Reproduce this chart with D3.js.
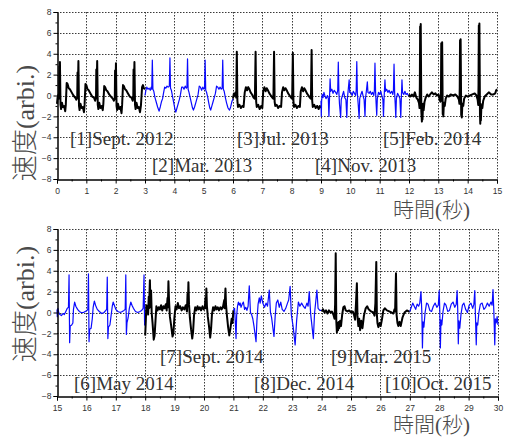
<!DOCTYPE html>
<html>
<head>
<meta charset="utf-8">
<script src="https://cdn.jsdelivr.net/npm/d3@7"></script>
<style>
  body { margin: 0; background: #fff; }
</style>
</head>
<body>
<svg id="chart" width="513" height="437"></svg>
<script>
// ---- Recording labels (one per 3-second segment) ----
const recordLabels = [
  "[1]Sept. 2012", "[2]Mar. 2013", "[3]Jul. 2013", "[4]Nov. 2013", "[5]Feb. 2014",
  "[6]May 2014", "[7]Sept. 2014", "[8]Dec. 2014", "[9]Mar. 2015", "[10]Oct. 2015"
];

// ---- Tick values ----
const yTicks = [-8, -6, -4, -2, 0, 2, 4, 6, 8];
const yMinorTicks = [-7, -5, -3, -1, 1, 3, 5, 7];
const xTicksTop = [0, 1, 2, 3, 4, 5, 6, 7, 8, 9, 10, 11, 12, 13, 14, 15];
const xTicksBottom = [15, 16, 17, 18, 19, 20, 21, 22, 23, 24, 25, 26, 27, 28, 29, 30];

// ---- Velocity traces: [time (s), velocity (arbi.)] ----
const sept2012 = [
  [0,-0.8],[0.02,-0.2],[0.05,0.1],[0.07,-0.3],[0.08,2.8],[0.09,0.5],[0.1,3.2],[0.12,-0.9],[0.14,-1.3],[0.17,-0.7],
  [0.2,-1.1],[0.24,-1.0],[0.28,-1.5],[0.3,-0.9],[0.33,1.2],[0.36,1.1],[0.4,0.7],[0.44,0.6],[0.5,0.3],[0.56,0.0],
  [0.62,-0.2],[0.66,-0.4],[0.69,-0.2],[0.7,2.2],[0.71,0.4],[0.73,3.3],[0.75,-1.0],[0.77,-1.4],[0.8,-0.8],[0.84,-1.2],
  [0.88,-1.1],[0.92,-1.6],[0.94,-0.9],[0.97,1.1],[1.0,1.0],[1.04,0.6],[1.08,0.5],[1.14,0.2],[1.2,-0.1],[1.26,-0.2],
  [1.3,-0.5],[1.33,-0.2],[1.34,2.5],[1.35,0.5],[1.37,3.3],[1.39,-0.9],[1.41,-1.3],[1.44,-0.7],[1.48,-1.2],[1.52,-1.0],
  [1.56,-1.4],[1.58,-0.8],[1.61,0.9],[1.64,0.8],[1.68,0.5],[1.72,0.4],[1.78,0.1],[1.84,-0.1],[1.9,-0.3],[1.94,-0.5],
  [1.97,-0.3],[1.98,2.4],[1.99,0.3],[2.01,3.1],[2.03,-1.0],[2.05,-1.4],[2.08,-0.8],[2.12,-1.3],[2.16,-1.1],[2.2,-1.7],
  [2.22,-0.9],[2.25,1.0],[2.28,0.9],[2.32,0.6],[2.36,0.5],[2.42,0.2],[2.48,-0.1],[2.54,-0.2],[2.58,-0.5],[2.6,-0.3],
  [2.61,2.5],[2.62,0.4],[2.64,3.2],[2.66,-0.9],[2.68,-1.3],[2.71,-0.7],[2.75,-1.2],[2.79,-1.1],[2.83,-1.6],[2.86,-1.0],
  [2.9,0.8],[2.93,1.0],[2.96,0.7],[3.0,0.6]
];
const mar2013 = [
  [3.0,0.0],[3.03,0.5],[3.06,0.8],[3.1,0.6],[3.14,0.7],[3.18,0.5],[3.21,0.8],[3.23,0.6],[3.25,3.4],[3.27,0.6],
  [3.3,0.4],[3.34,-0.2],[3.38,-0.6],[3.43,-1.1],[3.48,-1.5],[3.52,-1.1],[3.56,-0.6],[3.6,-0.3],[3.63,0.2],[3.67,0.8],
  [3.71,0.7],[3.75,0.9],[3.79,0.8],[3.83,0.9],[3.85,3.6],[3.87,0.7],[3.9,0.5],[3.94,-0.1],[3.98,-0.7],[4.02,-1.3],
  [4.05,-1.6],[4.09,-1.2],[4.13,-0.8],[4.17,-0.4],[4.21,0.1],[4.25,0.8],[4.29,0.8],[4.33,0.6],[4.37,0.9],[4.41,0.7],
  [4.43,0.8],[4.45,3.5],[4.47,0.6],[4.5,0.3],[4.54,-0.2],[4.58,-0.7],[4.62,-1.2],[4.65,-1.4],[4.69,-1.1],[4.73,-0.7],
  [4.77,-0.3],[4.81,0.1],[4.85,0.9],[4.89,0.8],[4.93,0.5],[4.97,0.8],[5.01,0.6],[5.03,0.7],[5.05,3.4],[5.07,0.5],
  [5.1,0.3],[5.14,-0.2],[5.18,-0.8],[5.21,-1.2],[5.24,-1.4],[5.28,-1.0],[5.32,-0.6],[5.36,-0.2],[5.4,0.2],[5.44,0.9],
  [5.48,0.8],[5.52,0.6],[5.56,0.8],[5.6,0.6],[5.63,0.7],[5.65,3.4],[5.67,0.6],[5.7,0.4],[5.74,-0.2],[5.78,-0.7],
  [5.83,-1.2],[5.88,-1.4],[5.92,-1.1],[5.96,-0.6],[6.0,-0.3]
];
const jul2013 = [
  [6.0,-0.3],[6.03,0.2],[6.06,0.0],[6.09,0.3],[6.11,-0.2],[6.13,4.2],[6.15,-0.5],[6.17,-1.1],[6.22,-0.9],[6.27,-1.2],
  [6.32,-1.0],[6.36,-1.1],[6.4,0.3],[6.44,0.8],[6.48,0.5],[6.52,0.8],[6.56,0.6],[6.6,0.3],[6.65,0.1],[6.7,-0.2],
  [6.74,-0.3],[6.75,0.3],[6.77,4.2],[6.79,-0.6],[6.81,-1.1],[6.86,-0.9],[6.91,-1.3],[6.96,-1.0],[7.0,-1.2],[7.03,0.4],
  [7.07,0.8],[7.11,0.4],[7.15,0.7],[7.19,0.5],[7.24,0.2],[7.29,0.0],[7.34,-0.2],[7.37,-0.3],[7.38,0.2],[7.4,4.2],
  [7.42,-0.6],[7.44,-1.0],[7.49,-0.9],[7.54,-1.2],[7.59,-1.0],[7.64,-1.1],[7.67,0.3],[7.71,0.8],[7.75,0.5],[7.79,0.7],
  [7.83,0.5],[7.88,0.2],[7.93,0.0],[7.98,-0.2],[8.01,-0.3],[8.02,0.3],[8.04,4.1],[8.06,-0.5],[8.08,-1.1],[8.13,-0.9],
  [8.18,-1.2],[8.23,-1.0],[8.28,-1.1],[8.31,0.4],[8.35,0.8],[8.39,0.4],[8.43,0.7],[8.47,0.5],[8.52,0.2],[8.57,0.0],
  [8.62,-0.2],[8.65,-0.3],[8.66,0.2],[8.68,4.35],[8.7,-0.5],[8.72,-1.1],[8.77,-0.9],[8.82,-1.2],[8.87,-1.0],[8.92,-1.3],
  [8.96,-1.0],[9.0,-1.2]
];
const nov2013 = [
  [9.0,-0.5],[9.01,-2.0],[9.02,-0.6],[9.04,0.1],[9.07,-0.2],[9.1,0.3],[9.13,0.0],[9.17,-0.3],[9.22,0.0],[9.25,-0.3],
  [9.27,-2.0],[9.29,-0.3],[9.31,1.6],[9.33,0.4],[9.37,0.6],[9.41,0.2],[9.45,0.5],[9.5,0.3],[9.54,0.1],[9.57,0.5],
  [9.59,3.2],[9.61,0.3],[9.63,-0.8],[9.67,-2.1],[9.69,-0.4],[9.73,0.0],[9.77,0.4],[9.81,-0.2],[9.85,-0.4],[9.88,-2.1],
  [9.9,-0.3],[9.93,0.6],[9.96,1.5],[9.98,0.3],[10.02,0.3],[10.06,0.0],[10.1,0.4],[10.14,0.2],[10.18,0.0],[10.2,0.5],
  [10.22,3.25],[10.24,0.2],[10.27,-0.9],[10.3,-2.2],[10.32,-0.3],[10.36,0.1],[10.4,0.4],[10.44,-0.1],[10.47,-0.4],[10.5,-2.0],
  [10.52,-0.2],[10.55,0.5],[10.58,1.3],[10.6,0.3],[10.64,0.2],[10.68,0.4],[10.72,0.1],[10.76,0.3],[10.8,0.0],[10.82,0.5],
  [10.84,3.1],[10.86,0.4],[10.88,-0.8],[10.9,-1.9],[10.92,-0.3],[10.96,0.3],[11.0,0.1],[11.04,0.4],[11.08,-0.1],[11.11,-0.4],
  [11.13,-2.0],[11.15,-0.3],[11.18,1.5],[11.2,0.4],[11.24,0.6],[11.28,0.3],[11.32,0.5],[11.36,0.2],[11.41,0.4],[11.45,0.1],
  [11.47,0.5],[11.49,3.0],[11.51,0.3],[11.53,-0.8],[11.55,-2.1],[11.57,-0.3],[11.61,0.2],[11.65,0.0],[11.69,-0.3],[11.72,-2.1],
  [11.74,-0.2],[11.76,1.5],[11.78,0.3],[11.82,0.1],[11.86,0.4],[11.9,0.1],[11.94,0.2],[11.98,0.0],[12.0,0.0]
];
const feb2014 = [
  [12.0,0.1],[12.05,-0.1],[12.1,0.1],[12.15,-0.1],[12.2,0.3],[12.25,-0.2],[12.3,-0.4],[12.34,-0.7],[12.36,-1.2],[12.37,1.0],
  [12.38,6.6],[12.39,-0.5],[12.4,6.85],[12.42,-1.5],[12.44,-2.5],[12.45,-0.9],[12.46,-2.3],[12.48,-0.8],[12.5,-1.4],[12.53,-0.6],
  [12.57,-0.2],[12.62,0.1],[12.67,-0.1],[12.72,0.1],[12.78,0.3],[12.84,0.1],[12.9,0.2],[12.95,0.0],[13.0,0.1],[13.04,-0.3],
  [13.07,-0.6],[13.09,0.5],[13.1,5.0],[13.11,-0.5],[13.13,5.1],[13.15,-1.8],[13.16,-0.8],[13.17,-2.0],[13.19,-0.7],[13.22,-1.0],
  [13.25,-0.3],[13.3,0.0],[13.36,-0.1],[13.42,0.1],[13.5,0.0],[13.58,0.1],[13.65,-0.1],[13.7,-0.4],[13.72,-0.8],[13.73,0.8],
  [13.74,5.3],[13.75,-0.3],[13.76,5.4],[13.78,-1.9],[13.79,-0.9],[13.8,-2.1],[13.82,-0.8],[13.85,-1.0],[13.88,-0.3],[13.94,0.0],
  [14.0,-0.1],[14.08,0.0],[14.16,0.1],[14.24,0.2],[14.3,0.0],[14.34,-0.4],[14.36,-0.9],[14.37,1.0],[14.38,6.7],[14.39,-0.4],
  [14.4,6.9],[14.42,-1.8],[14.43,-2.7],[14.44,-0.8],[14.45,-2.4],[14.47,-0.9],[14.5,-1.2],[14.53,-0.5],[14.58,-0.1],[14.65,0.1],
  [14.72,0.3],[14.8,0.1],[14.88,0.1],[14.94,0.2],[14.97,0.5],[15.0,0.6]
];
const may2014 = [
  [15.0,0.3],[15.01,-0.4],[15.03,0.4],[15.06,0.0],[15.1,-0.2],[15.15,-0.3],[15.2,-0.1],[15.25,-0.2],[15.3,0.1],[15.35,0.4],
  [15.39,0.5],[15.41,3.6],[15.43,-2.9],[15.45,-1.3],[15.5,-1.2],[15.54,-1.0],[15.56,0.3],[15.6,1.0],[15.64,0.6],[15.7,0.3],
  [15.76,0.1],[15.82,0.0],[15.9,0.0],[15.96,0.1],[16.02,0.2],[16.05,0.3],[16.07,3.7],[16.09,-2.8],[16.11,-1.6],[16.16,-1.5],
  [16.2,-0.6],[16.23,0.5],[16.27,1.1],[16.31,0.7],[16.37,0.3],[16.44,0.1],[16.52,-0.1],[16.6,0.0],[16.66,0.2],[16.69,0.3],
  [16.71,3.4],[16.73,-2.5],[16.75,-1.4],[16.8,-1.2],[16.84,-0.3],[16.88,0.6],[16.91,1.0],[16.95,0.7],[17.0,0.3],[17.07,0.1],
  [17.15,0.0],[17.22,0.1],[17.28,0.2],[17.32,0.3],[17.34,3.6],[17.36,-2.1],[17.38,-1.0],[17.42,-0.5],[17.46,0.4],[17.51,1.0],
  [17.55,0.7],[17.6,0.4],[17.67,0.1],[17.75,0.0],[17.82,0.1],[17.88,0.2],[17.93,0.4],[17.96,3.6],[17.98,-1.2],[18.0,-0.3]
];
const sept2014 = [
  [18.0,-2.2],[18.02,-0.8],[18.04,0.7],[18.06,0.2],[18.08,0.5],[18.1,-0.2],[18.12,1.5],[18.13,0.4],[18.16,3.1],[18.18,0.5],
  [18.2,2.1],[18.22,0.0],[18.25,-1.0],[18.29,-2.6],[18.32,-2.2],[18.35,-0.8],[18.38,0.6],[18.42,0.2],[18.46,0.5],[18.5,0.3],
  [18.54,0.7],[18.58,0.2],[18.62,0.6],[18.66,0.4],[18.7,0.8],[18.73,0.2],[18.76,1.4],[18.77,0.5],[18.79,3.0],[18.81,1.2],
  [18.84,-0.4],[18.88,-1.2],[18.93,-2.3],[18.96,-2.0],[18.99,-0.6],[19.03,0.6],[19.07,0.3],[19.11,0.9],[19.15,0.4],[19.19,0.6],
  [19.24,0.2],[19.28,0.5],[19.33,0.3],[19.38,0.7],[19.42,0.1],[19.44,1.8],[19.45,0.6],[19.47,2.9],[19.49,0.8],[19.52,-0.5],
  [19.56,-1.6],[19.6,-2.5],[19.63,-1.8],[19.66,-0.3],[19.7,0.5],[19.74,0.2],[19.78,0.6],[19.82,0.3],[19.86,0.5],[19.9,0.2],
  [19.95,0.6],[19.99,0.3],[20.03,0.5],[20.05,1.4],[20.06,0.4],[20.08,2.3],[20.1,0.6],[20.13,-0.4],[20.17,-1.3],[20.21,-2.4],
  [20.24,-1.6],[20.27,-0.2],[20.31,0.5],[20.35,0.2],[20.39,0.6],[20.43,0.3],[20.47,0.5],[20.51,0.2],[20.56,0.5],[20.6,0.3],
  [20.65,0.6],[20.69,1.2],[20.7,0.4],[20.73,2.3],[20.75,0.7],[20.78,-0.3],[20.82,-1.4],[20.86,-2.2],[20.9,-1.5],[20.94,-0.6],
  [20.97,-1.0],[21.0,0.2]
];
const dec2014 = [
  [21.0,0.2],[21.04,0.4],[21.07,-1.2],[21.09,-2.5],[21.11,-0.3],[21.14,0.6],[21.17,1.0],[21.2,0.7],[21.23,0.9],[21.26,0.5],
  [21.3,0.8],[21.34,1.0],[21.38,0.3],[21.42,0.5],[21.46,0.2],[21.5,0.6],[21.54,2.55],[21.58,0.0],[21.62,-0.2],[21.66,-0.6],
  [21.7,-1.3],[21.77,-2.8],[21.8,-0.8],[21.84,0.8],[21.88,1.4],[21.91,0.9],[21.95,1.6],[22.0,0.9],[22.06,0.5],[22.11,0.9],
  [22.16,0.6],[22.22,2.15],[22.26,0.0],[22.3,-0.5],[22.38,-2.3],[22.42,-0.4],[22.46,0.9],[22.51,1.2],[22.56,0.5],[22.61,1.0],
  [22.66,0.3],[22.72,0.1],[22.78,0.4],[22.84,0.9],[22.88,1.2],[22.93,2.5],[22.97,-0.2],[23.03,-1.3],[23.1,-3.1],[23.15,-0.8],
  [23.21,1.0],[23.26,0.6],[23.32,0.9],[23.38,0.6],[23.44,0.4],[23.5,0.9],[23.54,0.6],[23.58,2.0],[23.63,-0.2],[23.72,-2.5],
  [23.76,-0.1],[23.84,2.15],[23.88,0.4],[23.94,0.2],[24.0,0.2]
];
const mar2015 = [
  [24.0,0.1],[24.05,0.3],[24.1,0.0],[24.15,0.2],[24.2,-0.1],[24.25,0.2],[24.3,0.0],[24.35,0.1],[24.4,-0.2],[24.44,-0.6],
  [24.46,0.8],[24.48,5.67],[24.5,-0.8],[24.52,-1.9],[24.54,-1.0],[24.56,-1.7],[24.58,-0.9],[24.6,-1.5],[24.63,-0.8],[24.66,-1.3],
  [24.7,-0.2],[24.74,0.5],[24.78,0.6],[24.82,0.2],[24.88,0.1],[24.94,0.2],[25.0,0.0],[25.06,0.1],[25.1,-0.2],[25.14,-0.7],
  [25.17,0.9],[25.2,2.8],[25.22,-0.3],[25.25,-1.3],[25.28,-0.6],[25.31,-1.7],[25.35,-0.8],[25.39,-1.5],[25.44,-0.3],[25.5,0.4],
  [25.55,0.6],[25.6,0.3],[25.68,0.1],[25.76,0.0],[25.8,-0.3],[25.83,0.9],[25.86,4.85],[25.88,-0.2],[25.9,-1.0],[25.93,-1.4],
  [25.97,-1.0],[26.01,-1.3],[26.05,-0.7],[26.1,0.2],[26.15,0.4],[26.22,0.2],[26.3,0.1],[26.38,0.0],[26.44,-0.1],[26.48,0.3],
  [26.5,0.1],[26.53,3.75],[26.55,-0.2],[26.58,-1.0],[26.61,-1.3],[26.65,-0.9],[26.69,-1.3],[26.75,-0.5],[26.82,0.0],[26.9,0.2],
  [26.96,0.1],[27.0,0.1]
];
const oct2015 = [
  [27.0,0.1],[27.05,0.5],[27.1,0.9],[27.15,0.6],[27.2,0.3],[27.25,0.8],[27.3,0.6],[27.34,0.9],[27.38,2.0],[27.41,0.0],
  [27.43,-3.4],[27.45,-0.9],[27.48,-1.4],[27.52,0.0],[27.57,0.9],[27.62,0.8],[27.68,0.2],[27.74,0.1],[27.8,0.6],[27.86,0.9],
  [27.92,0.5],[27.97,0.7],[28.0,2.1],[28.02,0.2],[28.04,-3.4],[28.06,-0.7],[28.09,-1.2],[28.13,0.1],[28.18,0.9],[28.23,0.7],
  [28.29,0.1],[28.35,0.2],[28.41,0.8],[28.47,1.0],[28.53,0.5],[28.58,0.8],[28.61,2.1],[28.63,0.3],[28.65,-3.0],[28.67,-0.8],
  [28.7,-1.5],[28.74,-0.2],[28.79,0.7],[28.84,0.9],[28.9,0.3],[28.96,0.0],[29.02,0.7],[29.08,0.9],[29.14,0.4],[29.18,0.8],
  [29.21,2.1],[29.23,0.0],[29.26,-3.1],[29.28,-1.0],[29.31,-1.2],[29.35,0.0],[29.4,0.8],[29.46,0.9],[29.52,0.3],[29.58,0.5],
  [29.64,0.9],[29.7,0.6],[29.76,1.0],[29.8,0.7],[29.83,2.2],[29.86,0.0],[29.89,-3.1],[29.91,-0.6],[29.94,-1.0],[29.97,-0.4],
  [30.0,-1.2]
];

// ---- Styling & layout ----
const BLACK = "#000000", BLUE = "#0a0aff";
const traceStyle = [
  { color: BLACK, width: 2.0 }, { color: BLUE, width: 1.2 }
];

const panels = [
  {
    xDomain: [0, 15], xTicks: xTicksTop,
    left: 57, right: 497, top: 12, bottom: 179,
    traces: [sept2012, mar2013, jul2013, nov2013, feb2014],
    labelIdx: [0, 1, 2, 3, 4],
    labelPos: [[70, 145], [152, 172], [237, 145], [315, 172], [383, 145]],
    yTitleY: 123, xTitleBase: 217
  },
  {
    xDomain: [15, 30], xTicks: xTicksBottom,
    left: 57, right: 498, top: 229, bottom: 396,
    traces: [may2014, sept2014, dec2014, mar2015, oct2015],
    labelIdx: [5, 6, 7, 8, 9],
    labelPos: [[74, 390], [160, 363], [254, 390], [331, 363], [385, 390]],
    yTitleY: 304, xTitleBase: 432
  }
];

const svg = d3.select("#chart");
const gridColor = "#3a3a3a";

panels.forEach((p, pi) => {
  const x = d3.scaleLinear().domain(p.xDomain).range([p.left, p.right]);
  const y = d3.scaleLinear().domain([-8, 8]).range([p.bottom, p.top]);
  const g = svg.append("g");

  // dotted grid (also closes the frame on top and right)
  g.append("g").selectAll("line").data(p.xTicks.slice(1)).join("line")
    .attr("x1", d => Math.round(x(d)) + 0.5).attr("x2", d => Math.round(x(d)) + 0.5)
    .attr("y1", p.top).attr("y2", p.bottom)
    .attr("stroke", gridColor).attr("stroke-width", 1).attr("stroke-dasharray", "1.5,1.5");
  g.append("g").selectAll("line").data(yTicks.slice(1)).join("line")
    .attr("x1", p.left).attr("x2", p.right)
    .attr("y1", d => Math.round(y(d)) + 0.5).attr("y2", d => Math.round(y(d)) + 0.5)
    .attr("stroke", gridColor).attr("stroke-width", 1).attr("stroke-dasharray", "1.5,1.5");

  // velocity traces, alternating black / blue by recording
  const line = d3.line().x(d => x(d[0])).y(d => y(d[1]));
  p.traces.forEach((tr, i) => {
    const st = traceStyle[(pi * 5 + i) % 2];
    g.append("path").datum(tr)
      .attr("d", line)
      .attr("fill", "none")
      .attr("stroke", st.color)
      .attr("stroke-width", st.width)
      .attr("stroke-linejoin", "round");
  });

  // axes
  g.append("g").attr("transform", `translate(${p.left + 0.5},0)`)
    .call(d3.axisLeft(y).tickValues(yTicks).tickSize(4).tickPadding(2).tickFormat(d3.format("d")));
  g.append("g").attr("transform", `translate(${p.left + 0.5},0)`)
    .call(d3.axisLeft(y).tickValues(yMinorTicks).tickSize(2).tickFormat(""));
  g.append("g").attr("transform", `translate(0,${p.bottom + 0.5})`)
    .call(d3.axisBottom(x).tickValues(p.xTicks).tickSize(4).tickPadding(4));
  g.append("g").attr("transform", `translate(0,${p.bottom + 0.5})`)
    .call(d3.axisBottom(x).tickValues(p.xTicks.slice(0, -1).map(d => d + 0.5)).tickSize(2).tickFormat(""));

  g.selectAll(".domain").attr("stroke", "#000").attr("stroke-width", 1);
  g.selectAll(".tick line").attr("stroke", "#000");
  g.selectAll(".tick text")
    .attr("fill", "#333")
    .style("font-family", "'Liberation Sans', Arial, sans-serif")
    .style("font-size", "8.5px");

  // recording labels
  p.labelIdx.forEach((li, k) => {
    g.append("text")
      .attr("x", p.labelPos[k][0]).attr("y", p.labelPos[k][1])
      .attr("fill", "#333")
      .style("font-family", "'Liberation Serif', 'Times New Roman', serif")
      .style("font-size", "19px")
      .text(recordLabels[li]);
  });

  // axis titles
  g.append("text")
    .attr("transform", `translate(34,${p.yTitleY}) rotate(-90)`)
    .attr("text-anchor", "middle")
    .attr("fill", "#4a4a4a")
    .style("font-family", "'Liberation Serif', 'Noto Sans CJK JP', serif")
    .style("font-size", "26px")
    .style("font-weight", "300")
    .text("速度(arbi.)");
  g.append("text")
    .attr("x", 393).attr("y", p.xTitleBase)
    .attr("fill", "#4a4a4a")
    .style("font-family", "'Liberation Serif', 'Noto Sans CJK JP', serif")
    .style("font-size", "21px")
    .style("font-weight", "300")
    .text("時間(秒)");
});
</script>
</body>
</html>
